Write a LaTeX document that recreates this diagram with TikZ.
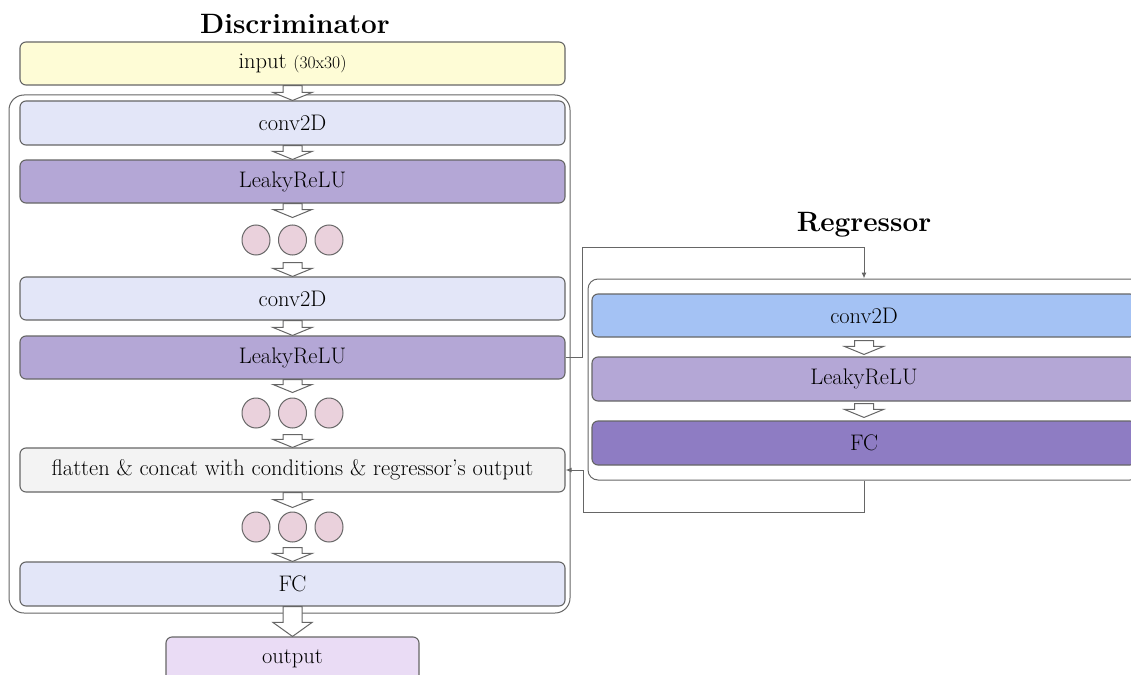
\documentclass[tikz,border=0pt]{standalone}
\usetikzlibrary{arrows.meta,calc,shapes.geometric}
\definecolor{edge}{HTML}{666666}
\definecolor{inyel}{HTML}{FEFCD6}
\definecolor{lblue}{HTML}{E3E6F8}
\definecolor{lpurp}{HTML}{B4A7D6}
\definecolor{pinkc}{HTML}{EAD1DC}
\definecolor{lgray}{HTML}{F3F3F3}
\definecolor{outc}{HTML}{EADCF5}
\definecolor{rblue}{HTML}{A4C2F4}
\definecolor{rpurp}{HTML}{8E7CC3}
\tikzset{
 layer/.style={draw=edge, line width=1.1pt, rounded corners=6pt, minimum width=545pt, minimum height=43pt, inner sep=0pt, font=\fontsize{22.5}{25}\selectfont},
 frame/.style={draw=edge, line width=1pt, inner sep=0pt},
 dot/.style={ellipse, draw=edge, fill=pinkc, line width=1pt, minimum width=28pt, minimum height=30pt, inner sep=0pt},
 blockarrow/.style={draw=edge, fill=white, line width=1pt, line join=miter},
 link/.style={draw=edge, line width=1pt, -{Latex[length=6pt,width=5pt]}},
 title/.style={font=\fontsize{28}{30}\selectfont\bfseries}
}
\newcommand\barrow[3]{%
 \draw[blockarrow] let \p1=(#1), \p2=(#2) in
   (\x1-9.5pt,\y1) -- (\x1+9.5pt,\y1) -- (\x1+9.5pt,\y2+#3) -- (\x1+19.5pt,\y2+#3)
   -- (\x1,\y2) -- (\x1-19.5pt,\y2+#3) -- (\x1-9.5pt,\y2+#3) -- cycle;}
\begin{document}
\begin{tikzpicture}[x=1pt,y=-1pt]
\useasboundingbox (0,0) rectangle (1131,674);
\clip (0,0) rectangle (1131,674);
% titles
\node[title] (tdisc) at (295,24) {Discriminator};
\node[title] (treg) at (864,225) {Regressor};
% frames
\node[frame, rounded corners=15pt, minimum width=561pt, minimum height=518pt] (dframe) at (289.5,354) {};
\node[frame, rounded corners=10pt, minimum width=552pt, minimum height=201pt] (rframe) at (864,379.5) {};
% discriminator layers
\node[layer, fill=inyel] (input) at (292.5,63.5) {input {\fontsize{17.5}{20}\selectfont(30x30)}};
\node[layer, fill=lblue, minimum height=44pt] (conv1) at (292.5,123) {conv2D};
\node[layer, fill=lpurp] (leaky1) at (292.5,181.5) {LeakyReLU};
\node[dot] (a1) at (256,240) {};
\node[dot] (a2) at (292.5,240) {};
\node[dot] (a3) at (329,240) {};
\node[layer, fill=lblue] (conv2) at (292.5,298.5) {conv2D};
\node[layer, fill=lpurp] (leaky2) at (292.5,357.5) {LeakyReLU};
\node[dot] (b1) at (256,413) {};
\node[dot] (b2) at (292.5,413) {};
\node[dot] (b3) at (329,413) {};
\node[layer, fill=lgray, minimum height=44pt] (flatten) at (292.5,470) {flatten \& concat with conditions \& regressor's output};
\node[dot] (c1) at (256,527) {};
\node[dot] (c2) at (292.5,527) {};
\node[dot] (c3) at (329,527) {};
\node[layer, fill=lblue, minimum height=44pt] (fc) at (292.5,584) {FC};
\node[layer, fill=outc, minimum width=253pt, minimum height=44pt] (output) at (292.5,659) {output};
% regressor layers
\node[layer, fill=rblue, minimum width=544pt] (rconv) at (864,315.5) {conv2D};
\node[layer, fill=lpurp, minimum width=544pt, minimum height=44pt] (rleaky) at (864,379) {LeakyReLU};
\node[layer, fill=rpurp, minimum width=544pt, minimum height=44pt] (rfc) at (864,443) {FC};
% block arrows
\barrow{input.south}{conv1.north}{8pt}
\barrow{conv1.south}{leaky1.north}{8pt}
\barrow{leaky1.south}{$(a2.north)+(0,-7)$}{8pt}
\barrow{$(a2.south)+(0,7)$}{conv2.north}{8pt}
\barrow{conv2.south}{leaky2.north}{8pt}
\barrow{leaky2.south}{$(b2.north)+(0,-5)$}{8pt}
\barrow{$(b2.south)+(0,6)$}{flatten.north}{8pt}
\barrow{flatten.south}{$(c2.north)+(0,-4)$}{8pt}
\barrow{$(c2.south)+(0,5)$}{fc.north}{8pt}
\barrow{fc.south}{output.north}{14pt}
\barrow{$(rconv.south)+(0,3)$}{$(rleaky.north)+(0,-2)$}{8pt}
\barrow{$(rleaky.south)+(0,2)$}{$(rfc.north)+(0,-3)$}{8pt}
% connectors
\draw[link] (leaky2.east) -- ++(17,0) |- ($(rframe.north)+(0,-31)$) -- (rframe.north);
\draw[link] (rframe.south) -- ++(0,32) -| ($(flatten.east)+(18,0)$) -- (flatten.east);
\end{tikzpicture}
\end{document}
